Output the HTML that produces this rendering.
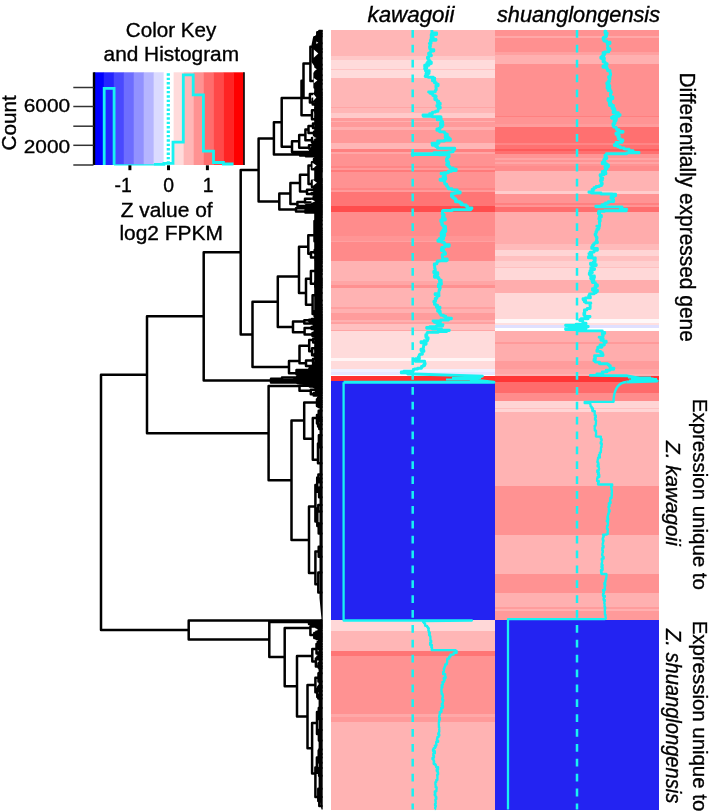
<!DOCTYPE html>
<html><head><meta charset="utf-8"><style>
html,body{margin:0;padding:0;background:#fff;width:709px;height:812px;overflow:hidden}
svg{position:absolute;left:0;top:0;will-change:transform}
text{font-family:"Liberation Sans",sans-serif;fill:#000;stroke:#000;stroke-width:0.35px}
</style></head><body>
<svg width="709" height="812" viewBox="0 0 709 812">
<g shape-rendering="crispEdges">
<rect x="330.5" y="29.5" width="164.0" height="26.30" fill="#FFB6B6"/>
<rect x="330.5" y="55.8" width="164.0" height="3.70" fill="#FFC8C8"/>
<rect x="330.5" y="59.5" width="164.0" height="9.20" fill="#FFDBDB"/>
<rect x="330.5" y="68.7" width="164.0" height="1.30" fill="#FFC4C4"/>
<rect x="330.5" y="70.0" width="164.0" height="8.00" fill="#FFDBDB"/>
<rect x="330.5" y="78.0" width="164.0" height="29.00" fill="#FFB6B6"/>
<rect x="330.5" y="107.0" width="164.0" height="0.80" fill="#FFA5A5"/>
<rect x="330.5" y="107.8" width="164.0" height="5.20" fill="#FFB6B6"/>
<rect x="330.5" y="113.0" width="164.0" height="4.50" fill="#FFCACA"/>
<rect x="330.5" y="117.5" width="164.0" height="3.00" fill="#FF9A9A"/>
<rect x="330.5" y="120.5" width="164.0" height="1.90" fill="#FFB0B0"/>
<rect x="330.5" y="122.4" width="164.0" height="4.30" fill="#FF9A9A"/>
<rect x="330.5" y="126.7" width="164.0" height="3.10" fill="#FFAFAF"/>
<rect x="330.5" y="129.8" width="164.0" height="12.90" fill="#FF9999"/>
<rect x="330.5" y="142.7" width="164.0" height="6.20" fill="#FFB6B6"/>
<rect x="330.5" y="148.9" width="164.0" height="3.10" fill="#FF8080"/>
<rect x="330.5" y="152.0" width="164.0" height="2.40" fill="#FFA5A5"/>
<rect x="330.5" y="154.4" width="164.0" height="11.10" fill="#FF9292"/>
<rect x="330.5" y="165.5" width="164.0" height="2.50" fill="#FF8585"/>
<rect x="330.5" y="168.0" width="164.0" height="1.80" fill="#FF9A9A"/>
<rect x="330.5" y="169.8" width="164.0" height="1.80" fill="#FF7A7A"/>
<rect x="330.5" y="171.6" width="164.0" height="16.10" fill="#FF9292"/>
<rect x="330.5" y="187.7" width="164.0" height="2.30" fill="#FF8585"/>
<rect x="330.5" y="190.0" width="164.0" height="2.00" fill="#FF9A9A"/>
<rect x="330.5" y="192.0" width="164.0" height="14.00" fill="#FF7575"/>
<rect x="330.5" y="206.0" width="164.0" height="6.00" fill="#FF4D4D"/>
<rect x="330.5" y="212.0" width="164.0" height="23.80" fill="#FF8C8C"/>
<rect x="330.5" y="235.8" width="164.0" height="4.90" fill="#FF9595"/>
<rect x="330.5" y="240.7" width="164.0" height="1.30" fill="#FFA0A0"/>
<rect x="330.5" y="242.0" width="164.0" height="19.00" fill="#FF8A8A"/>
<rect x="330.5" y="261.0" width="164.0" height="20.40" fill="#FFB3B3"/>
<rect x="330.5" y="281.4" width="164.0" height="3.60" fill="#FFA5A5"/>
<rect x="330.5" y="285.0" width="164.0" height="2.50" fill="#FF9090"/>
<rect x="330.5" y="287.5" width="164.0" height="19.80" fill="#FFB3B3"/>
<rect x="330.5" y="307.3" width="164.0" height="1.20" fill="#FFA0A0"/>
<rect x="330.5" y="308.5" width="164.0" height="4.40" fill="#FFB0B0"/>
<rect x="330.5" y="312.9" width="164.0" height="6.70" fill="#FF9C9C"/>
<rect x="330.5" y="319.6" width="164.0" height="1.90" fill="#FFB0B0"/>
<rect x="330.5" y="321.5" width="164.0" height="2.50" fill="#FFA0A0"/>
<rect x="330.5" y="324.0" width="164.0" height="5.50" fill="#FFC0C0"/>
<rect x="330.5" y="329.5" width="164.0" height="1.20" fill="#FFA5A5"/>
<rect x="330.5" y="330.7" width="164.0" height="27.70" fill="#FFDBDB"/>
<rect x="330.5" y="358.4" width="164.0" height="2.50" fill="#FFF5F5"/>
<rect x="330.5" y="360.9" width="164.0" height="8.00" fill="#FFDBDB"/>
<rect x="330.5" y="368.9" width="164.0" height="3.10" fill="#F0F0FF"/>
<rect x="330.5" y="372.0" width="164.0" height="3.00" fill="#E6E6FF"/>
<rect x="330.5" y="375.0" width="164.0" height="1.30" fill="#FFFFFF"/>
<rect x="330.5" y="376.3" width="164.0" height="4.90" fill="#FF3030"/>
<rect x="330.5" y="381.2" width="164.0" height="238.80" fill="#2323f2"/>
<rect x="330.5" y="620.0" width="164.0" height="10.50" fill="#FFD8D8"/>
<rect x="330.5" y="630.5" width="164.0" height="20.30" fill="#FFB6B6"/>
<rect x="330.5" y="650.8" width="164.0" height="4.90" fill="#FF7575"/>
<rect x="330.5" y="655.7" width="164.0" height="58.00" fill="#FF9292"/>
<rect x="330.5" y="713.7" width="164.0" height="3.70" fill="#FFA8A8"/>
<rect x="330.5" y="717.4" width="164.0" height="4.30" fill="#FF9A9A"/>
<rect x="330.5" y="721.7" width="164.0" height="87.80" fill="#FFB3B3"/>
<rect x="494.5" y="29.5" width="164.5" height="6.50" fill="#FF9292"/>
<rect x="494.5" y="36.0" width="164.5" height="2.00" fill="#FFA8A8"/>
<rect x="494.5" y="38.0" width="164.5" height="14.00" fill="#FF9090"/>
<rect x="494.5" y="52.0" width="164.5" height="3.20" fill="#FFA0A0"/>
<rect x="494.5" y="55.2" width="164.5" height="8.60" fill="#FFB0B0"/>
<rect x="494.5" y="63.8" width="164.5" height="51.70" fill="#FF9090"/>
<rect x="494.5" y="115.5" width="164.5" height="1.20" fill="#FF8080"/>
<rect x="494.5" y="116.7" width="164.5" height="6.90" fill="#FF9494"/>
<rect x="494.5" y="123.6" width="164.5" height="3.70" fill="#FF9C9C"/>
<rect x="494.5" y="127.3" width="164.5" height="15.40" fill="#FF7070"/>
<rect x="494.5" y="142.7" width="164.5" height="2.50" fill="#FF8585"/>
<rect x="494.5" y="145.2" width="164.5" height="3.70" fill="#FF7272"/>
<rect x="494.5" y="148.9" width="164.5" height="1.80" fill="#FF5A5A"/>
<rect x="494.5" y="150.7" width="164.5" height="3.10" fill="#FF7070"/>
<rect x="494.5" y="153.8" width="164.5" height="3.70" fill="#FF9494"/>
<rect x="494.5" y="157.5" width="164.5" height="2.50" fill="#FFA5A5"/>
<rect x="494.5" y="160.0" width="164.5" height="1.80" fill="#FF9494"/>
<rect x="494.5" y="161.8" width="164.5" height="1.80" fill="#FFA5A5"/>
<rect x="494.5" y="163.6" width="164.5" height="1.90" fill="#FF9494"/>
<rect x="494.5" y="165.5" width="164.5" height="5.50" fill="#FF8C8C"/>
<rect x="494.5" y="171.0" width="164.5" height="20.40" fill="#FFB3B3"/>
<rect x="494.5" y="191.4" width="164.5" height="2.40" fill="#FFCDCD"/>
<rect x="494.5" y="193.8" width="164.5" height="9.20" fill="#FF9494"/>
<rect x="494.5" y="203.0" width="164.5" height="2.00" fill="#FF8080"/>
<rect x="494.5" y="205.0" width="164.5" height="2.40" fill="#FF9494"/>
<rect x="494.5" y="207.4" width="164.5" height="4.60" fill="#FF6E6E"/>
<rect x="494.5" y="212.0" width="164.5" height="32.40" fill="#FFACAC"/>
<rect x="494.5" y="244.4" width="164.5" height="5.60" fill="#FFBABA"/>
<rect x="494.5" y="250.0" width="164.5" height="5.50" fill="#FFD5D5"/>
<rect x="494.5" y="255.5" width="164.5" height="5.50" fill="#FFC0C0"/>
<rect x="494.5" y="261.0" width="164.5" height="6.20" fill="#FFD0D0"/>
<rect x="494.5" y="267.2" width="164.5" height="0.60" fill="#FFC0C0"/>
<rect x="494.5" y="267.8" width="164.5" height="12.20" fill="#FFD8D8"/>
<rect x="494.5" y="280.0" width="164.5" height="13.00" fill="#FFADAD"/>
<rect x="494.5" y="293.0" width="164.5" height="26.00" fill="#FFD8D8"/>
<rect x="494.5" y="319.0" width="164.5" height="3.70" fill="#FFF8F8"/>
<rect x="494.5" y="322.7" width="164.5" height="2.50" fill="#FFE0E0"/>
<rect x="494.5" y="325.2" width="164.5" height="3.10" fill="#E0E0FF"/>
<rect x="494.5" y="328.3" width="164.5" height="3.00" fill="#FFFFFF"/>
<rect x="494.5" y="331.3" width="164.5" height="11.10" fill="#FFADAD"/>
<rect x="494.5" y="342.4" width="164.5" height="1.90" fill="#FF9A9A"/>
<rect x="494.5" y="344.3" width="164.5" height="16.60" fill="#FFADAD"/>
<rect x="494.5" y="360.9" width="164.5" height="8.00" fill="#FF9C9C"/>
<rect x="494.5" y="368.9" width="164.5" height="4.90" fill="#FFA5A5"/>
<rect x="494.5" y="373.8" width="164.5" height="2.50" fill="#FFB0B0"/>
<rect x="494.5" y="376.3" width="164.5" height="6.10" fill="#FF3535"/>
<rect x="494.5" y="382.4" width="164.5" height="10.60" fill="#FF6B6B"/>
<rect x="494.5" y="393.0" width="164.5" height="8.00" fill="#FF8C8C"/>
<rect x="494.5" y="401.0" width="164.5" height="6.80" fill="#FFD5D5"/>
<rect x="494.5" y="407.8" width="164.5" height="1.20" fill="#FFC0C0"/>
<rect x="494.5" y="409.0" width="164.5" height="2.50" fill="#FFD5D5"/>
<rect x="494.5" y="411.5" width="164.5" height="74.00" fill="#FFB3B3"/>
<rect x="494.5" y="485.5" width="164.5" height="49.20" fill="#FF9292"/>
<rect x="494.5" y="534.7" width="164.5" height="39.50" fill="#FFB3B3"/>
<rect x="494.5" y="574.2" width="164.5" height="18.40" fill="#FF9292"/>
<rect x="494.5" y="592.6" width="164.5" height="14.80" fill="#FFB0B0"/>
<rect x="494.5" y="607.4" width="164.5" height="1.90" fill="#FF9C9C"/>
<rect x="494.5" y="609.3" width="164.5" height="1.20" fill="#FFB0B0"/>
<rect x="494.5" y="610.5" width="164.5" height="9.00" fill="#FF9A9A"/>
<rect x="494.5" y="619.5" width="164.5" height="190.00" fill="#2323f2"/>
</g>
<line x1="412.7" y1="29.9" x2="412.7" y2="809.5" stroke="#18f2f2" stroke-width="2.5" stroke-dasharray="7.8 7.076"/>
<line x1="577.0" y1="29.9" x2="577.0" y2="809.5" stroke="#18f2f2" stroke-width="2.5" stroke-dasharray="7.8 7.076"/>
<path d="M431.9 29.9V31.3H431.9V32.9H436.6V34.5H431.2V36.2H433.0V37.3H433.2V37.8H431.1V39.5H436.0V40.3H430.4V41.6H431.0V43.4H429.3V43.5H430.0V44.8H430.4V46.5H429.5V47.4H429.7V48.7H430.4V49.6H431.3V49.7H433.8V51.1H430.8V52.5H429.9V53.3H428.6V54.3H429.2V55.3H431.4V55.8H428.8V57.1H427.5V58.6H428.3V59.6H429.2V61.2H430.3V62.0H427.6V62.1H431.3V63.5H426.7V64.5H429.0V65.2H424.7V66.8H426.4V66.9H426.8V67.9H424.7V68.9H425.4V70.7H429.2V71.8H427.6V72.4H429.0V73.5H426.0V75.3H427.4V76.0H425.2V76.6H428.2V77.3H433.2V78.1H434.7V79.1H432.5V80.9H434.9V82.4H434.4V82.8H436.2V84.1H438.1V85.8H435.9V86.9H436.0V88.1H436.2V89.0H436.2V90.0H435.8V90.8H435.2V91.9H428.6V92.0H430.0V93.3H431.6V94.1H432.9V95.6H435.4V96.4H436.2V96.7H434.8V97.8H434.8V99.5H436.7V100.7H437.2V101.3H438.7V101.9H437.5V103.1H440.2V104.6H438.3V105.5H436.9V106.2H439.3V107.3H440.3V108.1H438.3V109.6H438.0V111.2H435.6V111.3H435.6V112.1H432.5V113.7H429.6V114.9H423.0V115.5H423.3V116.2H432.2V116.7H440.5V117.0H441.0V117.9H441.1V118.8H437.3V119.9H440.5V120.6H441.9V121.6H442.7V123.1H440.5V124.8H443.0V124.9H442.3V126.7H440.4V127.8H440.3V128.5H438.7V128.9H436.9V130.3H439.7V131.9H444.3V132.7H444.9V133.5H445.5V134.3H447.3V135.9H445.2V137.6H449.0V138.4H449.6V139.0H450.4V140.2H444.6V141.0H437.7V142.2H439.0V143.3H432.0V143.6H432.3V145.3H437.1V146.4H435.6V146.5H437.5V148.2H454.7V149.6H453.0V150.7H453.1V151.8H451.6V152.0H449.0V152.7H434.0V153.6H417.1V153.8H412.2V154.5H438.9V154.8H449.0V156.0H449.1V156.8H448.0V157.8H447.4V158.8H446.5V159.6H446.5V161.4H448.3V162.8H448.7V164.0H447.4V164.2H446.7V165.0H448.2V166.4H449.8V168.0H453.2V169.2H454.7V169.3H456.2V170.5H451.6V171.3H448.4V172.8H444.2V173.1H441.1V173.9H445.2V175.2H445.2V176.8H443.1V177.7H445.7V179.3H440.1V180.2H443.6V181.1H444.5V182.5H444.8V184.1H446.7V185.0H446.6V186.2H446.9V186.4H447.9V187.1H448.2V188.8H451.9V189.9H457.2V191.1H457.2V192.0H460.2V193.0H454.6V193.8H451.6V194.6H451.4V196.4H452.6V197.7H454.3V199.0H455.7V200.0H456.5V200.5H455.5V201.8H460.0V202.9H461.8V204.1H461.1V204.8H463.9V205.0H466.0V206.2H467.5V208.0H471.9V208.5H470.7V209.8H452.3V210.5H443.0V211.2H442.4V212.5H442.5V213.6H442.2V214.5H444.1V215.6H444.0V217.1H442.6V217.3H442.4V218.8H445.3V220.0H440.8V221.6H442.1V223.2H441.9V223.5H441.8V224.7H442.9V226.1H444.9V226.5H445.5V227.7H444.0V228.9H445.7V229.6H443.0V230.4H445.8V231.5H442.0V232.7H441.1V234.3H444.6V235.8H441.2V236.9H443.6V238.7H439.2V240.1H437.9V241.3H440.0V241.5H441.8V242.3H444.1V243.6H445.0V244.7H449.3V245.0H449.2V246.2H444.6V247.4H443.9V247.5H441.8V249.1H441.4V250.5H443.8V252.1H444.9V253.3H445.5V254.2H443.6V254.7H442.2V256.3H442.5V257.9H442.8V259.0H447.2V260.4H446.7V260.7H440.1V261.0H437.5V262.4H436.8V263.9H434.3V265.7H434.7V267.5H434.7V268.8H435.2V270.1H435.3V271.1H434.1V271.5H433.8V272.7H437.8V274.5H436.8V275.7H434.4V277.2H438.4V278.8H439.3V280.3H441.2V281.3H439.6V282.9H441.4V284.2H438.6V285.0H440.0V285.7H438.3V286.9H440.2V288.4H439.7V289.9H439.1V291.4H438.9V292.9H438.9V293.6H437.5V293.7H435.1V294.7H439.0V295.9H437.1V297.4H436.8V298.4H435.2V299.9H435.6V301.3H433.9V302.0H433.8V302.1H434.9V303.4H434.5V304.4H435.7V305.2H437.5V306.2H436.4V307.3H440.0V308.2H437.7V308.4H438.7V309.2H438.1V310.0H437.6V311.3H440.2V312.5H439.5V313.3H440.0V313.9H440.8V315.3H443.5V316.3H445.7V318.0H448.6V318.3H451.4V318.8H448.5V320.0H440.7V321.0H433.0V321.1H434.4V322.3H436.8V323.2H440.5V324.6H443.0V324.8H442.6V326.0H436.3V326.8H430.0V327.4H426.7V328.2H432.3V329.1H441.5V330.3H449.3V330.5H446.7V331.6H438.1V332.4H427.4V333.0H427.0V334.8H425.8V336.4H426.4V337.3H426.0V337.6H428.1V339.2H427.5V340.7H424.2V341.8H421.0V342.8H426.1V344.2H424.5V344.4H423.9V345.5H423.6V347.3H423.3V349.1H421.0V350.5H423.9V351.4H421.8V351.7H422.1V353.4H422.4V354.2H419.9V355.0H419.2V356.4H419.2V357.0H418.3V357.8H419.4V358.8H415.6V359.2H413.3V360.2H415.2V361.3H424.6V361.9H424.6V363.1H425.1V364.3H424.0V365.3H424.7V365.5H423.2V366.4H421.5V368.2H417.7V369.0H414.7V369.4H413.3V371.1H403.9V371.9H401.3V372.9H407.7V374.0H413.3L482.4 376.1L471.0 379.6L494.0 382.3L343.6 382.3" fill="none" stroke="#18f2f2" stroke-width="2.9" stroke-linejoin="round"/>
<path d="M605.8 29.9V31.3H605.0V32.9H607.1V33.9H605.5V34.8H606.6V36.1H606.2V37.0H604.4V37.8H603.1V39.5H604.0V41.0H606.6V42.2H610.0V43.5H607.4V44.8H607.8V46.2H608.0V46.5H607.8V47.6H607.6V48.7H609.9V50.1H609.3V50.4H608.7V51.9H604.8V52.8H603.0V53.2H605.0V53.7H604.7V54.6H603.8V55.9H601.9V57.3H600.8V58.3H604.4V58.9H602.3V59.3H604.2V60.7H603.1V62.1H605.1V63.6H607.1V64.5H605.0V65.2H605.6V66.0H603.0V67.3H606.9V68.9H607.6V70.7H610.1V70.8H610.0V71.8H610.1V73.5H610.6V74.9H610.2V76.7H608.6V77.7H609.9V79.2H609.2V80.9H609.5V81.4H608.0V82.1H608.9V83.0H606.8V84.0H607.1V84.9H609.2V85.8H609.8V86.8H607.1V88.2H609.8V89.1H608.1V90.6H610.9V92.2H611.4V92.7H610.8V93.8H610.4V95.4H610.8V96.9H612.8V98.7H608.0V100.5H610.6V101.9H609.3V103.7H610.7V104.0H611.5V104.6H609.5V105.5H613.5V106.3H613.3V107.3H612.0V108.5H614.6V109.7H615.0V111.2H613.1V112.8H618.3V113.6H616.0V114.0H616.4V114.8H620.1V115.3H619.0V116.2H613.2V116.5H614.5V117.3H611.6V118.2H616.4V119.6H616.1V120.8H614.0V122.0H614.3V122.3H615.0V123.6H613.0V125.4H613.6V127.1H616.0V128.0H616.5V129.6H618.9V130.5H617.8V131.1H620.7V131.5H623.0V132.2H619.0V133.0H617.8V133.1H616.0V134.4H617.7V135.5H619.3V136.2H617.8V137.1H618.2V138.8H620.3V140.0H622.8V141.0H621.4V141.1H622.1V142.4H616.1V143.9H617.3V144.6H614.3V145.5H617.7V146.8H620.2V147.9H624.0V148.9H624.9V149.1H629.0V150.7H633.0V152.0H634.3V152.4H639.0V152.9H626.7V153.8H606.5V154.1H606.3V155.1H605.0V156.6H605.8V157.4H606.8V158.5H604.7V159.4H603.8V160.1H603.7V160.7H604.9V162.5H602.2V163.8H606.5V164.4H607.2V165.0H608.4V166.7H605.0V167.6H607.0V168.8H605.7V170.4H604.4V171.2H603.7V171.4H602.3V172.8H605.9V173.9H604.0V174.7H600.1V175.8H601.0V177.0H600.9V178.2H602.8V178.5H600.9V179.5H602.4V180.3H600.5V181.3H601.1V183.1H602.2V184.4H601.6V185.5H600.2V185.6H599.3V186.5H596.2V187.6H594.0V189.4H592.1V190.9H593.1V191.9H588.9V192.2H591.4V193.0H601.0V194.0H612.2V194.2H615.6V195.8H613.6V197.0H611.0V198.4H613.1V199.6H612.9V200.1H613.7V201.6H608.4V203.0H605.6V203.2H606.5V203.8H604.6V204.6H602.0V206.2H595.8V206.5H596.0V206.9H622.0V207.4H620.4V209.1H626.6V209.2H626.3V210.8H604.7V211.3H598.8V212.5H598.4V213.7H599.7V215.5H601.4V217.0H599.2V218.8H598.8V219.1H599.5V219.7H600.2V221.3H599.3V222.5H599.5V224.3H599.6V226.1H596.8V226.2H598.8V227.1H599.1V228.3H598.5V229.4H596.8V230.7H596.8V231.7H595.9V233.2H596.0V234.1H595.1V235.1H595.8V236.3H596.2V237.2H597.0V238.4H596.7V240.1H596.4V241.7H597.4V241.8H597.4V242.8H594.9V243.6H593.7V245.2H592.6V245.9H593.1V247.0H591.7V248.4H597.2V248.7H597.4V249.3H597.4V250.3H594.1V252.1H590.1V253.7H588.9V253.8H591.7V254.6H590.9V255.6H592.0V256.8H588.5V257.9H595.3V258.6H593.9V259.5H595.2V260.6H595.1V262.2H593.2V263.2H590.5V264.5H596.2V265.6H592.4V266.3H592.3V267.8H590.8V268.6H594.5V269.5H590.8V271.0H590.0V272.2H592.3V272.7H591.0V273.3H589.3V274.6H590.5V276.0H594.4V277.8H590.7V278.8H593.4V279.8H593.9V280.2H592.0V281.2H592.4V282.6H595.3V284.1H596.1V285.0H597.4V286.3H595.0V287.8H595.6V288.6H592.5V290.2H597.4V291.4H596.3V292.4H596.0V292.7H594.0V293.9H589.6V294.1H589.5V295.7H588.7V296.6H590.3V297.9H585.5V298.7H583.0V299.2H583.3V299.9H585.5V301.0H584.3V301.8H585.9V302.9H590.8V303.5H590.3V304.2H590.0V305.6H590.2V307.4H590.1V308.5H587.3V309.1H586.8V309.9H584.4V311.4H584.8V313.1H583.9V314.9H584.9V315.5H584.7V316.5H590.0V316.7H588.5V317.8H588.1V318.8H581.2V319.7H579.7V320.5H582.6V321.4H582.8V322.6H583.3V323.2H586.0V324.2H576.1V325.3H565.6V325.5H568.9V326.5H588.2V326.7H586.0V328.4H572.4V328.8H565.6V329.5H577.6V330.9H601.0V331.0H602.3V332.5H604.7V333.4H602.3V334.6H603.2V335.9H602.8V337.2H599.1V337.3H601.6V338.2H603.1V339.5H600.9V340.3H603.3V341.2H606.2V342.3H604.5V343.0H604.4V343.3H604.3V345.0H600.0V346.1H601.9V347.2H597.8V348.6H598.0V348.8H597.6V350.3H596.9V351.4H600.6V352.8H602.3V353.0H601.8V354.4H603.0V355.6H594.6V357.0H595.3V357.1H595.4V358.1H595.4V359.1H594.1V360.6H593.9V360.8H595.3V362.1H599.5V363.8H607.3V364.1H608.0V364.8H609.0V365.7H610.3V366.5H610.1V368.1H613.9V368.3H613.6V369.4H609.9V370.2H606.2V371.0H607.0V371.9H602.3V372.7H602.8V374.0H596.9V375.4H590.3L626.3 375.7L639.0 378.2L653.0 379.0L657.3 381.0L626.3 382.0" fill="none" stroke="#18f2f2" stroke-width="2.9" stroke-linejoin="round"/>
<path d="M343.6 382.3L343.6 620.5L471.9 620.5L423.2 621.0L423.2 621.0V622.2H424.0V623.3H425.1V625.8H427.1V627.1H427.9V628.2H428.8V628.9H428.3V630.6H428.8V632.4H429.8V633.6H429.1V635.2H429.9V636.4H430.4V638.3H430.4V640.7H431.2V642.6H430.1V644.9H431.9V646.3H431.3V647.4H432.0V649.3H431.7V649.4H431.7V650.2H455.6V651.0H456.6V652.9H453.7V654.6H450.5V656.6H449.2V658.7H447.3V659.2H447.2V661.1H447.2V662.6H446.9V664.3H445.2V666.6H444.6V668.0H444.2V669.0H443.7V669.2H444.0V670.8H443.8V672.0H443.1V674.2H445.2V674.8H445.0V676.4H445.6V678.0H443.7V679.2H444.6V680.4H444.0V681.9H442.4V683.1H442.9V684.8H441.7V686.7H442.4V687.4H441.5V688.1H441.6V689.3H441.4V691.4H441.7V692.5H441.6V693.9H442.5V695.4H442.9V697.0H442.6V698.2H442.2V699.9H443.3V701.3H443.0V701.4H442.8V703.6H441.8V705.5H443.0V707.8H441.1V709.9H441.5V712.0H439.7V712.5H440.0V713.9H439.6V715.7H439.2V717.9H439.9V719.9H439.1V722.4H438.8V724.5H438.9V726.6H438.9V727.5H439.3V728.1H439.2V730.3H439.3V732.0H439.0V733.2H438.3V734.4H439.3V735.7H438.6V736.5H438.5V737.2H437.3V739.2H436.9V740.7H438.1V741.9H436.2V744.1H436.4V745.6H434.8V746.0H435.7V747.1H435.1V748.2H433.7V749.5H433.0V751.1H434.8V753.4H433.3V755.9H434.0V757.6H433.3V757.8H432.5V759.2H433.5V760.9H434.1V762.5H433.7V764.1H435.3V765.2H436.0V767.1H438.1V769.4H436.7V771.0H437.8V771.5H437.6V772.7H438.1V774.6H437.2V775.9H437.4V778.0H437.4V779.7H437.4V780.0H436.3V782.1H435.4V784.4H435.6V785.6H435.6V787.2H436.6V789.6H436.4V791.3H434.8V793.0H435.3V794.7H434.6V795.0H435.5V796.9H436.3V799.3H435.4V801.2H435.7V803.7H435.0V805.6H435.8V806.8H435.2V809.0H434.8" fill="none" stroke="#18f2f2" stroke-width="2.3" stroke-linejoin="round"/>
<path d="M626.3 382 Q615 383 613.6 399 L613.6 401.8L584.7 401.8V403.2H590.3V404.9H590.6V406.6H591.7V408.3H593.0V409.4H592.3V411.1H594.8V411.7H594.6V413.3H594.7V415.4H595.8V417.7H595.0V419.8H595.5V420.1H596.0V421.9H595.9V424.3H595.6V425.8H594.6V426.7H594.7V428.9H594.8V430.6H596.0V432.6H596.1V434.6H595.9V436.4H596.0V436.6H600.9V437.0H600.8V439.1H601.6V440.8H601.3V442.2H600.7V443.7H601.8V445.1H601.5V447.2H601.0V448.3H600.9V449.4H601.0V450.8H600.8V452.6H599.8V454.9H598.9V456.5H599.9V457.7H598.0V459.7H597.7V461.3H597.4V462.4H598.0V462.6H598.3V464.0H598.6V465.1H597.6V466.4H598.8V468.1H599.0V469.4H598.8V470.4H597.3V472.3H598.8V473.7H598.0V474.8H599.3V477.1H597.5V478.6H597.1V481.0H598.8V482.2H598.3V483.5H598.0V484.0H598.0V484.5H612.2V484.6H612.2V485.8H611.1V487.7H611.5V489.9H611.9V491.6H611.9V493.2H611.5V493.9H611.9V495.6H611.6V498.0H610.3V500.0H610.1V501.8H610.6V503.2H608.8V504.8H609.5V506.6H608.4V507.3H608.7V508.8H608.8V510.2H609.6V511.7H608.7V514.0H608.1V515.2H607.9V517.0H607.4V518.4H608.2V520.5H606.8V521.4H608.0V522.4H607.9V523.6H607.8V525.8H607.0V527.4H606.9V529.0H607.8V531.3H607.6V533.5H607.8V534.1H606.5V534.7H603.0V535.0H603.7V537.1H603.1V538.3H602.7V540.1H603.5V541.3H603.1V543.3H602.7V545.7H603.5V547.7H602.3V548.9H602.5V549.6H602.3V550.7H602.9V552.5H602.5V554.2H602.1V555.5H602.6V556.9H603.6V558.7H601.7V559.9H602.2V561.9H602.0V563.3H601.7V563.7H601.6V564.8H602.6V566.0H601.5V567.6H602.6V570.0H601.0V571.5H601.6V572.7H601.1V573.0H601.5V574.0H606.3V574.3H606.5V576.7H606.3V577.9H606.1V579.5H605.7V580.9H605.2V582.9H604.4V584.7H605.3V585.9H604.7V588.2H605.0V589.8H603.1V591.0H603.9V591.9H603.8V593.6H603.0V595.9H604.8V597.1H603.8V598.5H603.6V600.0H604.8V601.4H604.3V603.7H604.6V605.5H604.5V607.1H605.2V608.9H604.8V611.2H604.9V613.1H604.9V614.8H605.5V616.9H605.7V618.8H604.9V619.2H508.0L508.0 619.2L508.0 809.5" fill="none" stroke="#18f2f2" stroke-width="2.3" stroke-linejoin="round"/>
<path d="M452 378H481M446 379.6H472M628 377.4H651M631 379H657M629 380.6H654" stroke="#18f2f2" stroke-width="2"/>
<path d="M322.7 29.4L313 37.5L311.5 45L311.5 62L314.2 66L314.2 369L296.5 371L296.5 384L311 386L316 390L319.5 398L319.5 598L321.5 619L318.6 621L318.6 795L321.5 809.5L322.7 809.5Z" fill="#000"/>
<rect x="271" y="378.6" width="27" height="4" fill="#000"/>
<path d="M310.4 46.8V81.0M310.4 46.8H314.4M310.4 81.0H314.6M314.4 37.2V55.2M314.4 37.2H317.3M314.4 55.2H317.7M317.3 32.2V39.8M317.3 32.2H319.3M317.3 39.8H319.1M319.3 31.0V33.8M319.3 31.0H320.2M319.3 33.8H320.2M320.2 31.0H321.4M320.2 33.8H321.4M319.1 36.3V43.2M319.1 36.3H319.6M319.1 43.2H319.7M319.6 36.3H321.4M319.7 43.2H321.4M317.7 50.0V58.2M317.7 50.0H319.0M317.7 58.2H319.6M319.0 48.9V52.0M319.0 48.9H320.1M319.0 52.0H319.9M320.1 48.9H321.4M319.9 52.0H321.4M319.6 58.2H321.4M314.6 73.2V87.4M314.6 73.2H317.9M314.6 87.4H317.6M317.9 66.6V75.3M317.9 66.6H318.7M317.9 75.3H319.6M318.7 64.8V69.1M318.7 64.8H320.2M318.7 69.1H320.0M320.2 64.8H321.4M320.0 69.1H321.4M319.6 75.3H321.4M317.6 81.7V89.6M317.6 81.7H319.0M317.6 89.6H319.7M319.0 80.0V83.7M319.0 80.0H320.1M319.0 83.7H319.7M320.1 80.0H321.4M319.7 83.7H321.4M319.7 89.6H321.4M309.9 93.9V102.5M309.9 93.9H315.3M309.9 102.5H312.7M315.3 92.6V94.6M315.3 92.6H318.2M315.3 94.6H316.9M318.2 92.6H321.4M316.9 94.1V95.3M316.9 94.1H318.9M316.9 95.3H318.0M318.9 94.1H321.4M318.0 95.3H321.4M312.7 98.8V104.4M312.7 98.8H315.1M312.7 104.4H315.2M315.1 98.3V101.1M315.1 98.3H318.3M315.1 101.1H316.8M318.3 97.5V99.1M318.3 97.5H319.0M318.3 99.1H320.0M319.0 97.5H321.4M320.0 99.1H321.4M316.8 100.2V102.1M316.8 100.2H318.3M316.8 102.1H318.2M318.3 100.2H321.4M318.2 102.1H321.4M315.2 103.3V105.0M315.2 103.3H317.0M315.2 105.0H317.8M317.0 103.3H321.4M317.8 105.0H321.4M303.5 63.4V98.0M303.5 63.4H310.4M303.5 98.0H309.9M312.0 110.2V119.3M312.0 110.2H315.5M312.0 119.3H315.8M315.5 108.1V112.5M315.5 108.1H318.5M315.5 112.5H318.4M318.5 106.7V109.6M318.5 106.7H320.1M318.5 109.6H319.3M320.1 106.7H321.4M319.3 109.2V110.6M319.3 109.2H320.0M319.3 110.6H319.8M320.0 109.2H321.4M319.8 110.6H321.4M318.4 111.7V113.1M318.4 111.7H319.7M318.4 113.1H319.2M319.7 111.7H321.4M319.2 112.7V113.9M319.2 112.7H319.8M319.2 113.9H320.2M319.8 112.7H321.4M320.2 113.9H321.4M315.8 116.2V120.2M315.8 116.2H318.6M315.8 120.2H318.1M318.6 115.4V116.9M318.6 115.4H319.2M318.6 116.9H319.4M319.2 115.4H321.4M319.4 116.9H321.4M318.1 119.0V120.9M318.1 119.0H319.2M318.1 120.9H319.4M319.2 119.0H321.4M319.4 120.9H321.4M301.5 80.7V115.2M301.5 80.7H303.5M301.5 115.2H312.0M313.0 123.4V128.1M313.0 123.4H317.6M313.0 128.1H316.6M317.6 122.8V124.2M317.6 122.8H318.4M317.6 124.2H318.4M318.4 122.8H321.4M318.4 124.2H321.4M316.6 127.1V129.5M316.6 127.1H317.6M316.6 129.5H318.6M317.6 126.3V127.8M317.6 126.3H319.7M317.6 127.8H318.5M319.7 126.3H321.4M318.5 127.8H321.4M318.6 129.5H321.4M314.0 131.8V134.9M314.0 131.8H317.4M314.0 134.9H317.3M317.4 131.3V132.5M317.4 131.3H319.2M317.4 132.5H319.5M319.2 131.3H321.4M319.5 132.5H321.4M317.3 134.1V135.7M317.3 134.1H319.4M317.3 135.7H318.9M319.4 134.1H321.4M318.9 135.7H321.4M308.5 126.0V133.0M308.5 126.0H313.0M308.5 133.0H314.0M312.0 138.1V142.4M312.0 138.1H315.9M312.0 142.4H314.1M315.9 137.5V139.7M315.9 137.5H318.4M315.9 139.7H317.7M318.4 136.9V138.0M318.4 136.9H319.9M318.4 138.0H319.1M319.9 136.9H321.4M319.1 138.0H321.4M317.7 138.9V140.3M317.7 138.9H319.1M317.7 140.3H318.8M319.1 138.9H321.4M318.8 140.3H321.4M314.1 141.6V143.3M314.1 141.6H317.9M314.1 143.3H316.2M317.9 141.6H321.4M316.2 143.3H321.4M305.4 129.5V140.3M305.4 129.5H308.5M305.4 140.3H312.0M309.0 145.2V148.6M309.0 145.2H312.4M309.0 148.6H312.2M312.4 144.9V146.2M312.4 144.9H317.0M312.4 146.2H315.2M317.0 144.9H321.4M315.2 146.2H321.4M312.2 147.6V149.3M312.2 147.6H316.6M312.2 149.3H317.0M316.6 147.6H321.4M317.0 149.3H321.4M299.2 134.9V147.7M299.2 134.9H305.4M299.2 147.7H309.0M310.0 151.0V152.6M310.0 151.0H313.5M310.0 152.6H312.8M313.5 150.6V151.8M313.5 150.6H317.1M313.5 151.8H317.7M317.1 150.6H321.4M317.7 151.8H321.4M312.8 152.6H321.4M292.0 141.3V152.0M292.0 141.3H299.2M292.0 152.0H310.0M281.7 98.0V146.7M281.7 98.0H301.5M281.7 146.7H292.0M300.0 153.5V155.6M300.0 153.5H306.3M300.0 155.6H305.9M306.3 153.5H321.4M305.9 154.9V156.2M305.9 154.9H310.7M305.9 156.2H313.5M310.7 154.9H321.4M313.5 156.2H321.4M273.9 122.3V154.5M273.9 122.3H281.7M273.9 154.5H300.0M312.0 162.2V169.3M312.0 162.2H314.0M312.0 169.3H316.8M314.0 159.1V164.4M314.0 159.1H316.3M314.0 164.4H317.5M316.3 157.6V159.6M316.3 157.6H317.3M316.3 159.6H318.8M317.3 157.6H321.4M318.8 159.6H321.4M317.5 162.0V165.3M317.5 162.0H319.2M317.5 165.3H318.9M319.2 161.5V163.1M319.2 161.5H320.4M319.2 163.1H320.1M320.4 161.5H321.4M320.1 163.1H321.4M318.9 164.4V166.1M318.9 164.4H319.4M318.9 166.1H319.8M319.4 164.4H321.4M319.8 166.1H321.4M316.8 168.5V170.6M316.8 168.5H318.2M316.8 170.6H318.8M318.2 168.5H321.4M318.8 170.2V171.4M318.8 170.2H319.7M318.8 171.4H320.0M319.7 170.2H321.4M320.0 171.4H321.4M312.0 180.7V187.0M312.0 180.7H316.3M312.0 187.0H314.3M316.3 179.4V183.5M316.3 179.4H318.0M316.3 183.5H318.3M318.0 179.0V180.3M318.0 179.0H319.2M318.0 180.3H319.4M319.2 179.0H321.4M319.4 180.3H321.4M318.3 182.0V184.4M318.3 182.0H319.6M318.3 184.4H319.7M319.6 182.0H321.4M319.7 184.4H321.4M314.3 186.2V187.5M314.3 186.2H318.2M314.3 187.5H317.1M318.2 186.2H321.4M317.1 187.5H321.4M308.5 165.6V184.0M308.5 165.6H312.0M308.5 184.0H312.0M307.0 189.8V193.9M307.0 189.8H314.2M307.0 193.9H311.6M314.2 188.6V190.7M314.2 188.6H317.6M314.2 190.7H316.9M317.6 188.6H321.4M316.9 189.9V190.9M316.9 189.9H319.0M316.9 190.9H318.0M319.0 189.9H321.4M318.0 190.9H321.4M311.6 193.0V194.2M311.6 193.0H314.1M311.6 194.2H315.4M314.1 193.0H321.4M315.4 194.2H321.4M300.0 174.8V191.4M300.0 174.8H308.5M300.0 191.4H307.0M305.0 198.8V202.6M305.0 198.8H313.7M305.0 202.6H311.1M313.7 196.8V200.4M313.7 196.8H316.7M313.7 200.4H316.0M316.7 196.1V198.4M316.7 196.1H319.0M316.7 198.4H318.5M319.0 196.1H321.4M318.5 197.6V199.1M318.5 197.6H320.0M318.5 199.1H319.3M320.0 197.6H321.4M319.3 199.1H321.4M316.0 200.4H321.4M311.1 202.6H321.4M306.0 205.2V206.6M306.0 205.2H312.2M306.0 206.6H310.2M312.2 204.4V205.7M312.2 204.4H314.1M312.2 205.7H317.1M314.1 204.4H321.4M317.1 205.7H321.4M310.2 206.6H321.4M297.4 202.0V206.0M297.4 202.0H305.0M297.4 206.0H306.0M290.4 183.1V204.0M290.4 183.1H300.0M290.4 204.0H297.4M296.0 208.2V211.6M296.0 208.2H306.1M296.0 211.6H305.4M306.1 207.5V208.9M306.1 207.5H311.4M306.1 208.9H314.3M311.4 207.5H321.4M314.3 208.9H321.4M305.4 210.6V212.5M305.4 210.6H309.3M305.4 212.5H311.1M309.3 210.3V211.4M309.3 210.3H313.1M309.3 211.4H312.6M313.1 210.3H321.4M312.6 211.4H321.4M311.1 212.5H321.4M279.3 193.6V209.5M279.3 193.6H290.4M279.3 209.5H296.0M258.6 138.4V201.5M258.6 138.4H273.9M258.6 201.5H279.3M308.3 235.3V253.8M308.3 235.3H314.5M308.3 253.8H311.0M314.5 221.0V241.2M314.5 221.0H316.7M314.5 241.2H316.7M316.7 216.3V227.6M316.7 216.3H317.8M316.7 227.6H318.5M317.8 214.1V218.7M317.8 214.1H319.1M317.8 218.7H319.0M319.1 213.5V214.7M319.1 213.5H319.7M319.1 214.7H320.1M319.7 213.5H321.4M320.1 214.7H321.4M319.0 217.3V220.6M319.0 217.3H320.0M319.0 220.6H320.2M320.0 217.3H321.4M320.2 220.6H321.4M318.5 224.6V229.9M318.5 224.6H320.0M318.5 229.9H319.4M320.0 224.6H321.4M319.4 228.5V230.6M319.4 228.5H320.5M319.4 230.6H320.4M320.5 228.5H321.4M320.4 230.6H321.4M316.7 235.1V244.6M316.7 235.1H318.1M316.7 244.6H317.8M318.1 233.9V237.9M318.1 233.9H318.9M318.1 237.9H319.2M318.9 232.8V234.8M318.9 232.8H320.0M318.9 234.8H320.2M320.0 232.8H321.4M320.2 234.8H321.4M319.2 236.9V238.9M319.2 236.9H320.2M319.2 238.9H320.0M320.2 236.9H321.4M320.0 238.9H321.4M317.8 241.7V246.4M317.8 241.7H318.7M317.8 246.4H318.6M318.7 240.6V243.5M318.7 240.6H319.4M318.7 243.5H319.4M319.4 240.0V241.3M319.4 240.0H320.4M319.4 241.3H319.8M320.4 240.0H321.4M319.8 241.3H321.4M319.4 242.6V244.1M319.4 242.6H320.3M319.4 244.1H320.0M320.3 242.6H321.4M320.0 244.1H321.4M318.6 245.7V247.4M318.6 245.7H319.7M318.6 247.4H319.2M319.7 245.7H321.4M319.2 247.4H321.4M311.0 252.2V257.6M311.0 252.2H314.7M311.0 257.6H315.8M314.7 250.0V253.0M314.7 250.0H317.3M314.7 253.0H316.1M317.3 249.6V251.3M317.3 249.6H319.3M317.3 251.3H319.0M319.3 249.6H321.4M319.0 251.3H321.4M316.1 252.5V253.8M316.1 252.5H319.0M316.1 253.8H318.7M319.0 252.5H321.4M318.7 253.8H321.4M315.8 256.1V259.9M315.8 256.1H318.4M315.8 259.9H318.5M318.4 255.5V256.7M318.4 255.5H319.7M318.4 256.7H319.8M319.7 255.5H321.4M319.8 256.7H321.4M318.5 258.6V261.3M318.5 258.6H319.2M318.5 261.3H319.4M319.2 257.6V259.3M319.2 257.6H320.1M319.2 259.3H320.1M320.1 257.6H321.4M320.1 259.3H321.4M319.4 261.3H321.4M306.0 278.8V304.8M306.0 278.8H310.9M306.0 304.8H312.6M310.9 270.9V283.7M310.9 270.9H316.7M310.9 283.7H315.4M316.7 267.7V276.7M316.7 267.7H317.7M316.7 276.7H318.6M317.7 264.8V270.1M317.7 264.8H318.5M317.7 270.1H318.7M318.5 263.0V266.2M318.5 263.0H320.0M318.5 266.2H319.6M320.0 263.0H321.4M319.6 266.2H321.4M318.7 269.5V271.0M318.7 269.5H320.2M318.7 271.0H319.8M320.2 269.5H321.4M319.8 271.0H321.4M318.6 274.0V278.5M318.6 274.0H319.9M318.6 278.5H319.2M319.9 274.0H321.4M319.2 278.5H321.4M315.4 281.6V286.7M315.4 281.6H316.9M315.4 286.7H317.6M316.9 280.3V283.7M316.9 280.3H318.5M316.9 283.7H318.6M318.5 279.8V281.0M318.5 279.8H319.7M318.5 281.0H319.6M319.7 279.8H321.4M319.6 281.0H321.4M318.6 282.8V284.1M318.6 282.8H319.2M318.6 284.1H319.4M319.2 282.8H321.4M319.4 284.1H321.4M317.6 285.4V287.6M317.6 285.4H318.9M317.6 287.6H319.6M318.9 285.4H321.4M319.6 287.6H321.4M312.6 295.3V314.1M312.6 295.3H317.3M312.6 314.1H314.6M317.3 292.9V302.2M317.3 292.9H319.5M317.3 302.2H318.5M319.5 292.9H321.4M318.5 300.5V304.9M318.5 300.5H319.5M318.5 304.9H320.1M319.5 300.5H321.4M320.1 304.9H321.4M314.6 311.3V316.2M314.6 311.3H317.5M314.6 316.2H317.1M317.5 308.3V312.9M317.5 308.3H318.4M317.5 312.9H318.9M318.4 307.7V309.4M318.4 307.7H319.6M318.4 309.4H319.5M319.6 307.7H321.4M319.5 309.4H321.4M318.9 312.0V314.5M318.9 312.0H320.2M318.9 314.5H320.0M320.2 312.0H321.4M320.0 314.5H321.4M317.1 315.5V317.2M317.1 315.5H319.1M317.1 317.2H318.9M319.1 315.5H321.4M318.9 317.2H321.4M299.0 246.8V293.1M299.0 246.8H308.3M299.0 293.1H306.0M293.0 321.5V332.2M293.0 321.5H304.3M293.0 332.2H304.6M304.3 320.2V323.6M304.3 320.2H309.2M304.3 323.6H313.6M309.2 319.7V321.1M309.2 319.7H311.9M309.2 321.1H312.8M311.9 318.9V320.0M311.9 318.9H315.6M311.9 320.0H314.0M315.6 318.9H321.4M314.0 320.0H321.4M312.8 321.1H321.4M313.6 322.5V324.7M313.6 322.5H316.9M313.6 324.7H316.2M316.9 322.5H321.4M316.2 323.7V325.4M316.2 323.7H318.6M316.2 325.4H318.7M318.6 323.7H321.4M318.7 325.4H321.4M304.6 328.0V334.5M304.6 328.0H311.6M304.6 334.5H312.5M311.6 326.9V329.0M311.6 326.9H316.3M311.6 329.0H314.8M316.3 326.9H321.4M314.8 328.6V329.9M314.8 328.6H317.4M314.8 329.9H317.9M317.4 328.6H321.4M317.9 329.9H321.4M312.5 332.9V336.1M312.5 332.9H314.6M312.5 336.1H317.0M314.6 331.4V333.9M314.6 331.4H317.1M314.6 333.9H317.6M317.1 331.4H321.4M317.6 333.2V334.3M317.6 333.2H318.6M317.6 334.3H319.2M318.6 333.2H321.4M319.2 334.3H321.4M317.0 336.1H321.4M277.8 276.4V327.0M277.8 276.4H299.0M277.8 327.0H293.0M299.5 345.8V363.2M299.5 345.8H309.2M299.5 363.2H306.0M309.2 340.1V351.3M309.2 340.1H313.2M309.2 351.3H312.1M313.2 338.8V342.5M313.2 338.8H317.5M313.2 342.5H317.5M317.5 338.0V339.5M317.5 338.0H318.7M317.5 339.5H318.9M318.7 338.0H321.4M318.9 339.5H321.4M317.5 342.0V343.2M317.5 342.0H318.7M317.5 343.2H318.8M318.7 341.1V342.3M318.7 341.1H319.5M318.7 342.3H319.8M319.5 341.1H321.4M319.8 342.3H321.4M318.8 343.2H321.4M312.1 348.2V355.2M312.1 348.2H315.8M312.1 355.2H314.6M315.8 346.9V350.4M315.8 346.9H317.0M315.8 350.4H317.9M317.0 345.4V348.2M317.0 345.4H318.9M317.0 348.2H319.1M318.9 344.3V346.1M318.9 344.3H319.5M318.9 346.1H319.4M319.5 344.3H321.4M319.4 346.1H321.4M319.1 348.2H321.4M317.9 350.0V351.3M317.9 350.0H319.4M317.9 351.3H318.8M319.4 350.0H321.4M318.8 351.3H321.4M314.6 354.1V356.2M314.6 354.1H316.5M314.6 356.2H317.8M316.5 353.4V354.8M316.5 353.4H318.0M316.5 354.8H319.1M318.0 353.4H321.4M319.1 354.8H321.4M317.8 356.2H321.4M306.0 360.4V366.0M306.0 360.4H313.0M306.0 366.0H312.9M313.0 359.0V362.8M313.0 359.0H316.6M313.0 362.8H317.2M316.6 358.4V360.5M316.6 358.4H319.2M316.6 360.5H318.7M319.2 357.8V359.0M319.2 357.8H320.0M319.2 359.0H320.0M320.0 357.8H321.4M320.0 359.0H321.4M318.7 360.5H321.4M317.2 362.0V363.4M317.2 362.0H318.6M317.2 363.4H318.3M318.6 362.0H321.4M318.3 363.4H321.4M312.9 364.7V366.6M312.9 364.7H317.5M312.9 366.6H314.8M317.5 364.7H321.4M314.8 365.9V367.3M314.8 365.9H317.9M314.8 367.3H316.5M317.9 365.9H321.4M316.5 367.3H321.4M296.5 370.1V374.2M296.5 370.1H309.4M296.5 374.2H301.8M309.4 368.6V370.7M309.4 368.6H312.8M309.4 370.7H314.8M312.8 368.6H321.4M314.8 370.1V371.4M314.8 370.1H316.8M314.8 371.4H316.5M316.8 370.1H321.4M316.5 371.4H321.4M301.8 373.3V375.3M301.8 373.3H311.3M301.8 375.3H309.0M311.3 372.8V374.0M311.3 372.8H314.5M311.3 374.0H315.3M314.5 372.8H321.4M315.3 374.0H321.4M309.0 375.3H321.4M289.0 360.9V373.3M289.0 360.9H299.5M289.0 373.3H296.5M252.5 301.7V367.1M252.5 301.7H277.8M252.5 367.1H289.0M240.7 170.0V334.4M240.7 170.0H258.6M240.7 334.4H252.5M271.0 378.8V382.6M271.0 378.8H282.0M271.0 382.6H297.8M282.0 377.5V380.5M282.0 377.5H297.0M282.0 380.5H293.6M297.0 377.1V378.5M297.0 377.1H301.9M297.0 378.5H305.9M301.9 377.1H321.4M305.9 378.5H321.4M293.6 379.9V381.1M293.6 379.9H305.1M293.6 381.1H300.7M305.1 379.9H321.4M300.7 381.1H321.4M297.8 381.9V383.1M297.8 381.9H309.7M297.8 383.1H306.8M309.7 381.9H321.4M306.8 383.1H321.4M203.7 252.2V380.5M203.7 252.2H240.7M203.7 380.5H271.0M317.0 415.0V423.6M317.0 415.0H318.7M317.0 423.6H318.1M318.7 410.8V417.6M318.7 410.8H320.0M318.7 417.6H320.0M320.0 410.8H321.4M320.0 417.6H321.4M318.1 420.3V426.6M318.1 420.3H318.9M318.1 426.6H319.3M318.9 419.7V421.3M318.9 419.7H320.1M318.9 421.3H319.7M320.1 419.7H321.4M319.7 421.3H321.4M319.3 424.6V429.0M319.3 424.6H319.8M319.3 429.0H320.3M319.8 424.6H321.4M320.3 429.0H321.4M318.0 443.4V463.2M318.0 443.4H318.9M318.0 463.2H319.7M318.9 435.3V447.3M318.9 435.3H319.6M318.9 447.3H319.8M319.6 435.3H321.4M319.8 447.3H321.4M319.7 463.2H321.4M312.8 417.9V459.7M312.8 417.9H317.0M312.8 459.7H318.0M317.0 399.3V405.9M317.0 399.3H318.0M317.0 405.9H318.5M318.0 398.1V401.7M318.0 398.1H319.5M318.0 401.7H318.7M319.5 398.1H321.4M318.7 400.5V402.3M318.7 400.5H319.8M318.7 402.3H319.7M319.8 400.5H321.4M319.7 402.3H321.4M318.5 404.5V406.9M318.5 404.5H319.3M318.5 406.9H319.7M319.3 404.5H321.4M319.7 406.9H321.4M304.2 402.5V438.8M304.2 402.5H317.0M304.2 438.8H312.8M315.4 484.9V521.6M315.4 484.9H317.2M315.4 521.6H317.3M317.2 477.6V491.7M317.2 477.6H318.4M317.2 491.7H319.1M318.4 474.4V480.5M318.4 474.4H319.7M318.4 480.5H319.3M319.7 474.4H321.4M319.3 478.5V482.2M319.3 478.5H319.8M319.3 482.2H320.2M319.8 478.5H321.4M320.2 482.2H321.4M319.1 487.5V497.2M319.1 487.5H320.2M319.1 497.2H320.1M320.2 487.5H321.4M320.1 497.2H321.4M317.3 508.3V526.1M317.3 508.3H318.3M317.3 526.1H318.7M318.3 504.9V511.5M318.3 504.9H319.5M318.3 511.5H319.6M319.5 504.9H321.4M319.6 511.5H321.4M318.7 523.5V533.5M318.7 523.5H319.6M318.7 533.5H319.6M319.6 523.5H321.4M319.6 533.5H321.4M315.4 551.5V584.3M315.4 551.5H318.7M315.4 584.3H318.3M318.7 546.7V556.8M318.7 546.7H319.5M318.7 556.8H319.5M319.5 546.7H321.4M319.5 556.8H321.4M318.3 572.6V592.5M318.3 572.6H319.4M318.3 592.5H319.8M319.4 572.6H321.4M319.8 592.5H321.4M309.0 506.6V573.1M309.0 506.6H315.4M309.0 573.1H315.4M291.5 420.6V539.9M291.5 420.6H304.2M291.5 539.9H309.0M299.5 385.7V390.7M299.5 385.7H309.8M299.5 390.7H310.8M309.8 384.8V386.5M309.8 384.8H312.7M309.8 386.5H315.0M312.7 384.8H321.4M315.0 386.5H321.4M310.8 389.7V394.3M310.8 389.7H316.0M310.8 394.3H313.7M316.0 388.9V391.0M316.0 388.9H317.3M316.0 391.0H317.6M317.3 388.2V389.6M317.3 388.2H319.4M317.3 389.6H318.6M319.4 388.2H321.4M318.6 389.6H321.4M317.6 391.0H321.4M313.7 392.9V395.4M313.7 392.9H315.6M313.7 395.4H317.7M315.6 392.5V393.6M315.6 392.5H317.3M315.6 393.6H318.6M317.3 392.5H321.4M318.6 393.6H321.4M317.7 395.4H321.4M268.6 386.1V480.2M268.6 386.1H299.5M268.6 480.2H291.5M147.0 316.3V433.2M147.0 316.3H203.7M147.0 433.2H268.6M315.4 767.6V797.1M315.4 767.6H316.9M315.4 797.1H318.3M316.9 757.5V772.7M316.9 757.5H318.7M316.9 772.7H319.1M318.7 750.5V759.2M318.7 750.5H319.3M318.7 759.2H319.4M319.3 749.4V754.0M319.3 749.4H319.9M319.3 754.0H320.2M319.9 749.4H321.4M320.2 754.0H321.4M319.4 757.6V762.7M319.4 757.6H320.4M319.4 762.7H319.8M320.4 757.6H321.4M319.8 762.7H321.4M319.1 768.1V775.8M319.1 768.1H319.9M319.1 775.8H320.0M319.9 768.1H321.4M320.0 775.8H321.4M318.3 788.8V800.9M318.3 788.8H319.6M318.3 800.9H319.3M319.6 788.8H321.4M319.3 797.0V805.9M319.3 797.0H319.8M319.3 805.9H320.4M319.8 797.0H321.4M320.4 805.9H321.4M317.0 712.0V734.1M317.0 712.0H318.8M317.0 734.1H318.9M318.8 708.0V719.1M318.8 708.0H320.2M318.8 719.1H320.1M320.2 708.0H321.4M320.1 719.1H321.4M318.9 730.0V740.5M318.9 730.0H319.9M318.9 740.5H320.2M319.9 730.0H321.4M320.2 740.5H321.4M312.1 723.0V773.5M312.1 723.0H317.0M312.1 773.5H315.4M315.4 677.7V692.3M315.4 677.7H318.5M315.4 692.3H317.3M318.5 673.2V681.5M318.5 673.2H319.8M318.5 681.5H319.7M319.8 673.2H321.4M319.7 681.5H321.4M317.3 688.8V696.9M317.3 688.8H318.2M317.3 696.9H318.3M318.2 686.9V690.9M318.2 686.9H318.9M318.2 690.9H319.6M318.9 685.9V687.7M318.9 685.9H319.7M318.9 687.7H319.6M319.7 685.9H321.4M319.6 687.7H321.4M319.6 690.9H321.4M318.3 695.0V698.6M318.3 695.0H319.6M318.3 698.6H319.8M319.6 695.0H321.4M319.8 698.6H321.4M307.5 684.9V748.2M307.5 684.9H315.4M307.5 748.2H312.1M312.3 649.0V661.4M312.3 649.0H316.5M312.3 661.4H315.9M316.5 644.1V653.5M316.5 644.1H317.7M316.5 653.5H318.4M317.7 642.0V647.8M317.7 642.0H318.8M317.7 647.8H318.9M318.8 640.9V643.9M318.8 640.9H319.7M318.8 643.9H319.7M319.7 640.9H321.4M319.7 643.9H321.4M318.9 646.5V649.0M318.9 646.5H320.2M318.9 649.0H319.6M320.2 646.5H321.4M319.6 649.0H321.4M318.4 652.5V654.6M318.4 652.5H319.5M318.4 654.6H319.2M319.5 652.5H321.4M319.2 654.6H321.4M315.9 658.6V666.4M315.9 658.6H317.4M315.9 666.4H318.6M317.4 656.8V659.2M317.4 656.8H319.4M317.4 659.2H319.6M319.4 656.8H321.4M319.6 659.2H321.4M318.6 663.2V667.4M318.6 663.2H320.0M318.6 667.4H319.2M320.0 663.2H321.4M319.2 666.3V668.2M319.2 666.3H320.3M319.2 668.2H320.3M320.3 666.3H321.4M320.3 668.2H321.4M297.0 656.0V716.6M297.0 656.0H312.3M297.0 716.6H307.5M310.4 626.5V635.1M310.4 626.5H316.2M310.4 635.1H314.3M316.2 625.4V627.3M316.2 625.4H318.5M316.2 627.3H317.6M318.5 625.4H321.4M317.6 626.5V628.1M317.6 626.5H319.4M317.6 628.1H318.9M319.4 626.5H321.4M318.9 628.1H321.4M314.3 633.1V637.9M314.3 633.1H316.3M314.3 637.9H316.5M316.3 631.7V634.7M316.3 631.7H318.5M316.3 634.7H317.5M318.5 630.6V633.2M318.5 630.6H319.6M318.5 633.2H319.1M319.6 630.6H321.4M319.1 633.2H321.4M317.5 634.7H321.4M316.5 636.7V638.9M316.5 636.7H318.8M316.5 638.9H317.6M318.8 636.2V637.2M318.8 636.2H319.6M318.8 637.2H319.8M319.6 636.2H321.4M319.8 637.2H321.4M317.6 638.9H321.4M284.7 628.0V686.3M284.7 628.0H310.4M284.7 686.3H297.0M309.0 621.6V623.9M309.0 621.6H311.6M309.0 623.9H313.5M311.6 621.6H321.4M313.5 623.0V624.7M313.5 623.0H316.5M313.5 624.7H315.6M316.5 623.0H321.4M315.6 624.7H321.4M269.3 622.0V657.1M269.3 622.0H309.0M269.3 657.1H284.7M188.7 620.6V639.6M188.7 620.6H321.4M188.7 639.6H269.3M101.0 374.8V630.1M101.0 374.8H147.0M101.0 630.1H188.7" fill="none" stroke="#000" stroke-width="2.5" stroke-linecap="round" stroke-linejoin="round"/>
<g><path d="M316.3 41.6L316.3 43.9L318.3 42.8Z" fill="#fff"/><path d="M313.8 49.4L313.8 57.7L318.3 53.5Z" fill="#fff"/><path d="M313.8 67.2L313.8 71.5L316.8 69.3Z" fill="#fff"/><path d="M313.8 78.0L313.8 83.2L317.3 80.6Z" fill="#fff"/><path d="M313.2 93.8L313.2 101.0L316.3 97.4Z" fill="#fff"/><path d="M313.2 136.8L313.2 139.2L316.5 138.0Z" fill="#fff"/><path d="M312.5 162.7L312.5 168.5L316.5 165.6Z" fill="#fff"/><path d="M312.8 179.8L312.8 185.7L317.0 182.8Z" fill="#fff"/><path d="M311.5 199.6L311.5 202.9L315.2 201.2Z" fill="#fff"/></g>
<rect x="93.80" y="72.3" width="10.28" height="92.7" fill="#0000FF"/>
<rect x="103.78" y="72.3" width="10.28" height="92.7" fill="#2424FF"/>
<rect x="113.76" y="72.3" width="10.28" height="92.7" fill="#4949FF"/>
<rect x="123.74" y="72.3" width="10.28" height="92.7" fill="#6D6DFF"/>
<rect x="133.72" y="72.3" width="10.28" height="92.7" fill="#9292FF"/>
<rect x="143.70" y="72.3" width="10.28" height="92.7" fill="#B6B6FF"/>
<rect x="153.68" y="72.3" width="10.28" height="92.7" fill="#DBDBFF"/>
<rect x="163.66" y="72.3" width="10.28" height="92.7" fill="#FFFFFF"/>
<rect x="173.64" y="72.3" width="10.28" height="92.7" fill="#FFDBDB"/>
<rect x="183.62" y="72.3" width="10.28" height="92.7" fill="#FFB6B6"/>
<rect x="193.60" y="72.3" width="10.28" height="92.7" fill="#FF9292"/>
<rect x="203.58" y="72.3" width="10.28" height="92.7" fill="#FF6D6D"/>
<rect x="213.56" y="72.3" width="10.28" height="92.7" fill="#FF4949"/>
<rect x="223.54" y="72.3" width="10.28" height="92.7" fill="#FF2424"/>
<rect x="233.52" y="72.3" width="10.28" height="92.7" fill="#FF0000"/>
<polyline points="104.2,165.0 104.2,88.4 114.1,88.4 114.1,165.0" fill="none" stroke="#18f2f2" stroke-width="2.8"/>
<polyline points="153.9,164.3 163.9,164.3 163.9,163.4 173.0,163.4 173.0,142.2 183.3,142.2 183.3,74.8 193.2,74.8 193.2,94.8 203.4,94.8 203.4,151.2 213.5,151.2 213.5,162.5 223.4,162.5 223.4,164.0 233.5,164.0" fill="none" stroke="#18f2f2" stroke-width="2.8"/>
<line x1="114" y1="164.9" x2="154" y2="164.9" stroke="#18f2f2" stroke-width="1.3"/>
<line x1="168.3" y1="73.3" x2="168.3" y2="165.0" stroke="#18f2f2" stroke-width="3.2" stroke-dasharray="2.4 2.0"/>
<line x1="94.0" y1="72.3" x2="94.0" y2="165.0" stroke="#000" stroke-width="2.4"/>
<line x1="244.0" y1="72.3" x2="244.0" y2="165.0" stroke="#000" stroke-width="1.6"/>
<line x1="73.3" y1="87.5" x2="93.5" y2="87.5" stroke="#333" stroke-width="1.5"/>
<line x1="73.3" y1="106.5" x2="93.5" y2="106.5" stroke="#333" stroke-width="1.5"/>
<line x1="73.3" y1="126.2" x2="93.5" y2="126.2" stroke="#333" stroke-width="1.5"/>
<line x1="73.3" y1="145.3" x2="93.5" y2="145.3" stroke="#333" stroke-width="1.5"/>
<line x1="73.3" y1="165.0" x2="93.5" y2="165.0" stroke="#333" stroke-width="1.5"/>
<line x1="129.9" y1="165.3" x2="129.9" y2="170.2" stroke="#000" stroke-width="3"/>
<line x1="168.5" y1="165.3" x2="168.5" y2="170.2" stroke="#000" stroke-width="3"/>
<line x1="207.4" y1="165.3" x2="207.4" y2="170.2" stroke="#000" stroke-width="3"/>
<text transform="translate(125.77,37.08) scale(1.0322,1.0053)" font-size="20">Color Key</text>
<text transform="translate(103.56,60.69) scale(1.0422,1.0526)" font-size="20">and Histogram</text>
<text transform="translate(23.76,111.90) scale(1.0430,0.9571)" font-size="20">6000</text>
<text transform="translate(23.76,153.10) scale(1.0430,0.9571)" font-size="20">2000</text>
<text transform="translate(114.61,192.20) scale(0.9714,0.9714)" font-size="20">-1</text>
<text transform="translate(163.16,192.20) scale(0.9714,0.9714)" font-size="20">0</text>
<text transform="translate(202.87,192.20) scale(0.9714,0.9714)" font-size="20">1</text>
<text transform="translate(120.75,216.70) scale(1.0471,0.9733)" font-size="20">Z value of</text>
<text transform="translate(119.45,240.11) scale(1.0458,0.9737)" font-size="20">log2 FPKM</text>
<text transform="translate(367.50,21.53) scale(1.0646,1.0421)" font-size="21" font-style="italic">kawagoii</text>
<text transform="translate(497.00,21.73) scale(1.0344,1.0684)" font-size="21" font-style="italic">shuanglongensis</text>
<text transform="translate(16.20,150.44) rotate(-90) scale(1.0365,1.0500)" font-size="20">Count</text>
<text transform="translate(679.63,72.51) rotate(90) scale(0.9966,1.0316)" font-size="21">Differentially expressed gene</text>
<text transform="translate(692.68,398.75) rotate(90) scale(0.9756,0.9211)" font-size="21">Expression unique to</text>
<text transform="translate(665.92,441.00) rotate(90) scale(0.9869,1.0053)" font-size="21" font-style="italic">Z. kawagoii</text>
<text transform="translate(693.07,620.65) rotate(90) scale(0.9725,0.9421)" font-size="21">Expression unique to</text>
<text transform="translate(665.61,629.00) rotate(90) scale(0.9575,1.0263)" font-size="21" font-style="italic">Z. shuanglongensis</text>
</svg>
</body></html>
